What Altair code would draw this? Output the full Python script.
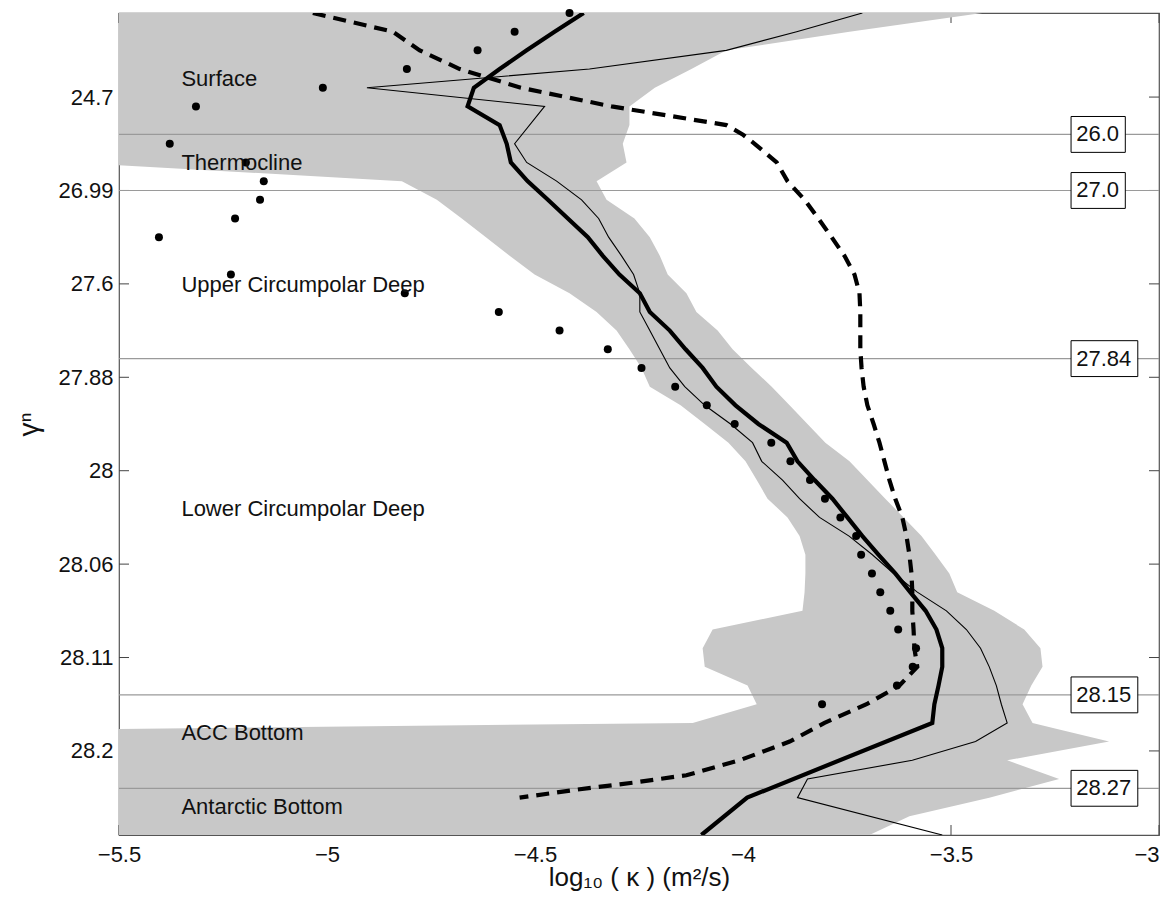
import json
import altair as alt
import pandas as pd

FONT = "Liberation Sans"
W, H = 1040, 822

# ---------------- axes ----------------
xtick_values = [-5.5, -5, -4.5, -4, -3.5, -3]
ytick_pos = [4.5, 9.5, 14.5, 19.5, 24.5, 29.5, 34.5, 39.5]
ytick_labels = ["24.7", "26.99", "27.6", "27.88", "28", "28.06", "28.11", "28.2"]

# y is the layer index (0 = top, 44 = bottom)
# ---------------- grey envelope ----------------
band_idx = [0, 1, 2, 3, 4, 5, 6, 7, 8,
            9, 10, 11, 12, 13, 14, 15, 16, 17, 18, 19,
            20, 21, 22, 23, 24, 25, 26, 27, 28, 29,
            30, 31, 32, 33, 34, 35, 36, 37, 38,
            38.35,
            39, 40, 41, 42, 43, 44]
band_left = [-5.62, -5.62, -5.62, -5.62, -5.62, -5.62, -5.62, -5.62, -5.62,
             -4.820, -4.736, -4.676, -4.618, -4.561, -4.501, -4.417, -4.352, -4.304, -4.273, -4.244,
             -4.224, -4.150, -4.092, -4.035, -3.994, -3.967, -3.941, -3.893, -3.864, -3.850,
             -3.850, -3.852, -3.857, -4.073, -4.097, -4.092, -3.989, -3.967, -4.121,
             -5.62,
             -5.62, -5.62, -5.62, -5.62, -5.62, -5.62]
band_right = [-3.425, -3.744, -4.040, -4.124, -4.212, -4.273, -4.273, -4.289, -4.280,
              -4.352, -4.328, -4.261, -4.224, -4.200, -4.181, -4.136, -4.112, -4.061, -4.025, -3.979,
              -3.931, -3.888, -3.845, -3.802, -3.744, -3.701, -3.658, -3.614, -3.571, -3.537,
              -3.504, -3.485, -3.396, -3.324, -3.285, -3.280, -3.307, -3.328, -3.304,
              -3.240,
              -3.120, -3.365, -3.240, -3.408, -3.600, -3.696]

# ---------------- thick solid line ----------------
thick_idx = [0, 1, 2, 3, 4, 5, 6, 7, 8, 9,
             10, 11, 12, 13, 14, 15, 16, 17, 18, 19,
             20, 21, 22, 23, 24, 25, 26, 27, 28, 29,
             30, 31, 32, 33, 34, 35, 36, 37, 38,
             42, 44]
thick_x = [-4.383, -4.453, -4.520, -4.585, -4.647, -4.662, -4.585, -4.568, -4.558, -4.518,
           -4.469, -4.421, -4.373, -4.337, -4.297, -4.248, -4.224, -4.176, -4.138, -4.097,
           -4.064, -4.018, -3.963, -3.895, -3.869, -3.828, -3.785, -3.749, -3.713, -3.674,
           -3.634, -3.598, -3.561, -3.535, -3.521, -3.521, -3.530, -3.540, -3.545,
           -3.990, -4.100]

# ---------------- thin solid line ----------------
thin_idx = [0, 1, 2, 3, 4, 5,
            7, 8, 9, 10, 11, 12, 13, 14, 15, 16,
            17, 18, 19, 20, 21, 22, 23, 24, 25, 26,
            27, 28, 29, 30, 31, 32, 33, 34, 35, 36,
            37, 38, 39, 40, 41, 42,
            44]
thin_x = [-3.713, -3.871, -4.040, -4.369, -4.904, -4.477,
          -4.549, -4.520, -4.448, -4.388, -4.347, -4.323, -4.292, -4.263, -4.248, -4.248,
          -4.224, -4.200, -4.176, -4.140, -4.092, -4.030, -3.977, -3.955, -3.905, -3.864,
          -3.816, -3.745, -3.689, -3.638, -3.581, -3.511, -3.463, -3.429, -3.408, -3.391,
          -3.379, -3.365, -3.441, -3.593, -3.845, -3.869,
          -3.521]

# ---------------- dashed line ----------------
dash_idx = [0, 1, 2, 3, 4, 5, 6, 6.5,
            7, 8, 9, 10, 11, 12, 13, 14, 15, 16,
            17, 18, 19, 20, 21, 22, 23, 24, 25, 26,
            27, 28, 29, 30, 31, 32, 33, 34, 35, 36,
            37, 38, 39, 40, 40.8, 41.2, 41.6, 42]
dash_x = [-5.034, -4.842, -4.777, -4.681, -4.534, -4.316, -4.040, -4.001,
          -3.972, -3.919, -3.893, -3.852, -3.819, -3.787, -3.756, -3.732, -3.720, -3.718,
          -3.718, -3.718, -3.715, -3.710, -3.701, -3.686, -3.672, -3.660, -3.648, -3.634,
          -3.617, -3.607, -3.600, -3.595, -3.593, -3.593, -3.590, -3.588, -3.581, -3.624,
          -3.703, -3.804, -3.888, -4.008, -4.136, -4.265, -4.409, -4.537]

# ---------------- dots ----------------
dot_idx = [0, 1, 2, 3, 4, 5,
           7, 8, 9, 10, 11, 12,
           14, 15, 16, 17, 18, 19, 20, 21, 22, 23,
           24, 25, 26, 27, 28, 29, 30, 31, 32, 33,
           34, 35, 36, 37]
dot_x = [-4.417, -4.549, -4.638, -4.808, -5.010, -5.315,
         -5.378, -5.195, -5.152, -5.161, -5.221, -5.404,
         -5.231, -4.813, -4.587, -4.441, -4.325, -4.244, -4.163, -4.087, -4.020, -3.932,
         -3.886, -3.839, -3.803, -3.766, -3.728, -3.716, -3.690, -3.670, -3.646, -3.627,
         -3.584, -3.592, -3.630, -3.810]

# ---------------- isopycnal lines & labels ----------------
rule_idx = [6.5, 9.5, 18.5, 36.5, 41.5]
rule_labels = ["26.0", "27.0", "27.84", "28.15", "28.27"]
box_left = [-3.2114, -3.2114, -3.2114, -3.2114, -3.2114]
box_right = [-3.081, -3.081, -3.051, -3.051, -3.051]
box_text_x = [-3.199, -3.199, -3.199, -3.199, -3.199]

region_names = ["Surface", "Thermocline", "Upper Circumpolar Deep",
                "Lower Circumpolar Deep", "ACC Bottom", "Antarctic Bottom"]
region_idx = [3.55, 8.05, 14.55, 26.55, 38.55, 42.5]
region_x = [-5.35, -5.35, -5.35, -5.35, -5.35, -5.35]

# ---------------- tables ----------------
df_band = pd.DataFrame({"idx": band_idx, "left": band_left, "right": band_right})
df_thick = pd.DataFrame({"idx": thick_idx, "x": thick_x})
df_thin = pd.DataFrame({"idx": thin_idx, "x": thin_x})
df_dash = pd.DataFrame({"idx": dash_idx, "x": dash_x})
df_dots = pd.DataFrame({"idx": dot_idx, "x": dot_x})
df_rules = pd.DataFrame({"idx": rule_idx, "label": rule_labels, "left": box_left,
                         "right": box_right, "tx": box_text_x})
df_regions = pd.DataFrame({"idx": region_idx, "name": region_names, "x": region_x})
df_yt = pd.DataFrame({"pos": ytick_pos})
df_xt = pd.DataFrame({"val": xtick_values})

x_scale = alt.Scale(domain=[-5.5, -3], nice=False, zero=False)
y_scale = alt.Scale(domain=[0, 44], reverse=True, nice=False, zero=False)

label_expr = f"{json.dumps(ytick_labels)}[indexof({json.dumps(ytick_pos)}, datum.value)]"

x_axis = alt.Axis(values=xtick_values, format="~g", ticks=False, domain=False, grid=False,
                  labelFont=FONT, labelFontSize=22, labelColor="#111", labelPadding=9,
                  labelFlush=False,
                  labelAlign={"condition": {"test": "datum.value == -3", "value": "right"},
                              "value": "center"},
                  title="log₁₀ ( κ ) (m²/s)", titleFont=FONT, titleFontSize=26,
                  titleFontWeight="normal", titleColor="#111",
                  titleY=50, titleBaseline="alphabetic")
y_axis = alt.Axis(values=ytick_pos, labelExpr=label_expr, ticks=False, domain=False, grid=False,
                  labelFont=FONT, labelFontSize=22, labelColor="#111", labelPadding=6,
                  title="γⁿ", titleFont=FONT, titleFontSize=28, titleFontWeight="normal",
                  titleColor="#111", titleX=-90, titleY=H / 2, titleAngle=270,
                  titleAlign="center", titleBaseline="middle")


def X(f):
    return alt.X(f"{f}:Q", scale=x_scale, axis=x_axis)


def Y(f):
    return alt.Y(f"{f}:Q", scale=y_scale, axis=y_axis)


TICK = dict(color="#444", strokeWidth=1)
ticks_left = alt.Chart(df_yt).mark_rule(**TICK).encode(y=Y("pos"), x=alt.value(0), x2=alt.value(10))
ticks_right = alt.Chart(df_yt).mark_rule(**TICK).encode(y=Y("pos"), x=alt.value(W - 10), x2=alt.value(W))
ticks_bottom = alt.Chart(df_xt).mark_rule(**TICK).encode(x=X("val"), y=alt.value(H - 10), y2=alt.value(H))
ticks_top = alt.Chart(df_xt).mark_rule(**TICK).encode(x=X("val"), y=alt.value(0), y2=alt.value(10))

band = alt.Chart(df_band).mark_area(orient="horizontal", color="#c8c8c8", opacity=1, clip=True).encode(
    y=Y("idx"), x=X("left"), x2=alt.X2("right"))

rules = alt.Chart(df_rules).mark_rule(color="#9a9a9a", strokeWidth=1.2).encode(y=Y("idx"))

thin = alt.Chart(df_thin).mark_line(color="black", strokeWidth=1.1, clip=True).encode(
    x=X("x"), y=Y("idx"), order=alt.Order("idx:Q"))
thick = alt.Chart(df_thick).mark_line(color="black", strokeWidth=4.2, clip=True).encode(
    x=X("x"), y=Y("idx"), order=alt.Order("idx:Q"))
dashed = alt.Chart(df_dash).mark_line(color="black", strokeWidth=4.2, strokeDash=[13, 8], clip=True).encode(
    x=X("x"), y=Y("idx"), order=alt.Order("idx:Q"))
dots = alt.Chart(df_dots).mark_circle(color="black", size=64, opacity=1).encode(x=X("x"), y=Y("idx"))

regions = alt.Chart(df_regions).mark_text(align="left", baseline="middle", font=FONT, fontSize=22,
                                          color="#111").encode(x=X("x"), y=Y("idx"), text="name:N")

boxes = alt.Chart(df_rules).transform_calculate(
    lo="datum.idx - 0.96", hi="datum.idx + 0.96"
).mark_rect(fill="white", stroke="black", strokeWidth=1).encode(
    x=X("left"), x2=alt.X2("right"), y=Y("lo"), y2=alt.Y2("hi"))
box_text = alt.Chart(df_rules).mark_text(align="left", baseline="middle", font=FONT, fontSize=22,
                                         color="#111").encode(x=X("tx"), y=Y("idx"), text="label:N")

chart = alt.layer(
    ticks_left, ticks_right, ticks_bottom, ticks_top,
    band, rules, thin, thick, dashed, dots, regions, boxes, box_text
).properties(
    width=W, height=H,
    autosize=alt.AutoSizeParams(type="none"),
    padding={"left": 111, "top": 5, "right": 1, "bottom": 59},
    background="white",
).configure_view(stroke="#555", strokeWidth=1.2)

chart.save("out.html", embed_options={"renderer": "svg", "actions": False})
